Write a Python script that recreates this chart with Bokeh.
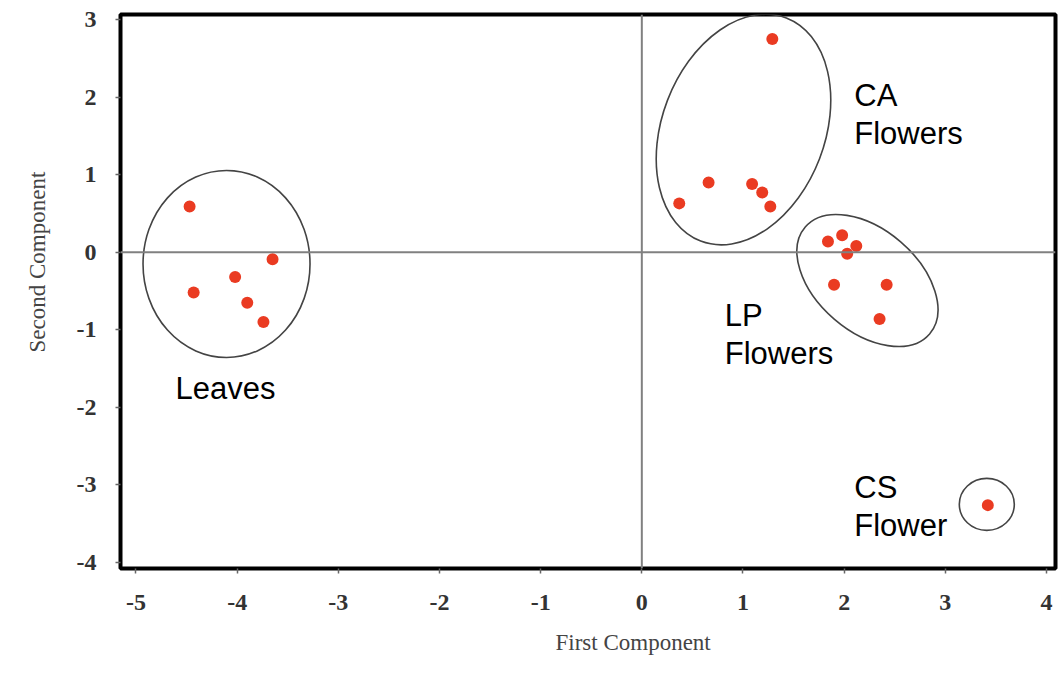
from bokeh.plotting import figure
from bokeh.models import Range1d, Span, FixedTicker, ColumnDataSource, Title
from bokeh.core.properties import value
from bokeh.embed import file_html
from bokeh.resources import INLINE

# ---- data ----
leaves_x = [-4.47, -4.43, -4.02, -3.90, -3.74, -3.65]
leaves_y = [0.59, -0.52, -0.32, -0.65, -0.90, -0.09]
ca_x = [1.29, 0.66, 0.37, 1.09, 1.19, 1.27]
ca_y = [2.75, 0.90, 0.63, 0.88, 0.77, 0.59]
lp_x = [1.84, 1.98, 2.12, 2.03, 1.90, 2.42, 2.35]
lp_y = [0.14, 0.22, 0.08, -0.02, -0.42, -0.42, -0.86]
cs_x = [3.42]
cs_y = [-3.26]

x_ticks = [-5, -4, -3, -2, -1, 0, 1, 2, 3, 4]
y_ticks = [-4, -3, -2, -1, 0, 1, 2, 3]

group_labels = ["CA\nFlowers", "LP\nFlowers", "Leaves", "CS\nFlower"]
x_title = "First Component"
y_title = "Second Component"

# ---- annotation geometry ----
label_x = [2.10, 0.82, -4.61, 2.10]
label_y = [2.24, -0.596, -1.537, -2.81]

ell_x = [-4.105, 1.005, 2.23, 3.41]
ell_y = [-0.151, 1.582, -0.364, -3.25]
ell_w = [167, 239, 164, 55]
ell_h = [187, 163, 102, 52]
ell_a = [0.0, 69.0, -40.7, 0.0]

p = figure(width=1061, height=679, output_backend="svg", toolbar_location=None,
           x_range=Range1d(-5.153, 4.089), y_range=Range1d(-4.077, 3.065),
           min_border_left=120, min_border_right=6, min_border_top=14,
           min_border_bottom=111)

p.xgrid.visible = False
p.ygrid.visible = False
p.outline_line_color = "black"
p.outline_line_width = 4
p.background_fill_color = "white"
p.border_fill_color = "white"

for ax in (p.xaxis[0], p.yaxis[0]):
    ax.axis_line_color = None
    ax.major_tick_in = 0
    ax.major_tick_out = 5
    ax.major_tick_line_color = "#666666"
    ax.major_tick_line_width = 1.5
    ax.minor_tick_line_color = None
    ax.major_label_text_font = "Liberation Serif"
    ax.major_label_text_font_size = "24px"
    ax.major_label_text_font_style = "bold"
    ax.major_label_text_color = "#333333"

p.xaxis.ticker = FixedTicker(ticks=x_ticks)
p.yaxis.ticker = FixedTicker(ticks=y_ticks)
p.xaxis.major_label_overrides = {t: str(t) for t in x_ticks}
p.yaxis.major_label_overrides = {t: str(t) for t in y_ticks}
p.xaxis.major_label_standoff = 21
p.yaxis.major_label_standoff = 19

# axis titles (offset as in the reference, near the zero lines)
p.add_layout(Title(text=x_title, align="left", offset=435, standoff=34,
                   vertical_align="top",
                   text_font="Liberation Serif", text_font_size="23px",
                   text_font_style="normal", text_color="#444444"), "below")
p.add_layout(Title(text=y_title, align="left", offset=216, standoff=44,
                   vertical_align="top",
                   text_font="Liberation Serif", text_font_size="23px",
                   text_font_style="normal", text_color="#444444"), "left")

p.add_layout(Span(location=0, dimension="width", line_color="#808080", line_width=2))
p.add_layout(Span(location=0, dimension="height", line_color="#808080", line_width=2))

# ellipses
esrc = ColumnDataSource(dict(x=ell_x, y=ell_y, w=ell_w, h=ell_h, a=ell_a))
p.ellipse(x="x", y="y", width="w", height="h", angle="a", angle_units="deg",
          width_units="screen", height_units="screen", source=esrc,
          fill_color=None, line_color="#444444", line_width=1.6)

# points
all_x = leaves_x + ca_x + lp_x + cs_x
all_y = leaves_y + ca_y + lp_y + cs_y
p.scatter(all_x, all_y, size=12, marker="circle", fill_color="#ea3b22",
          line_color=None)

# group labels
p.text(x=label_x, y=label_y, text=group_labels, text_font=value("Liberation Sans"),
       text_font_size="31px", text_color="black", text_baseline="top",
       text_align="left", text_line_height=1.07)

open("out.html", "w").write(file_html(p, INLINE))
